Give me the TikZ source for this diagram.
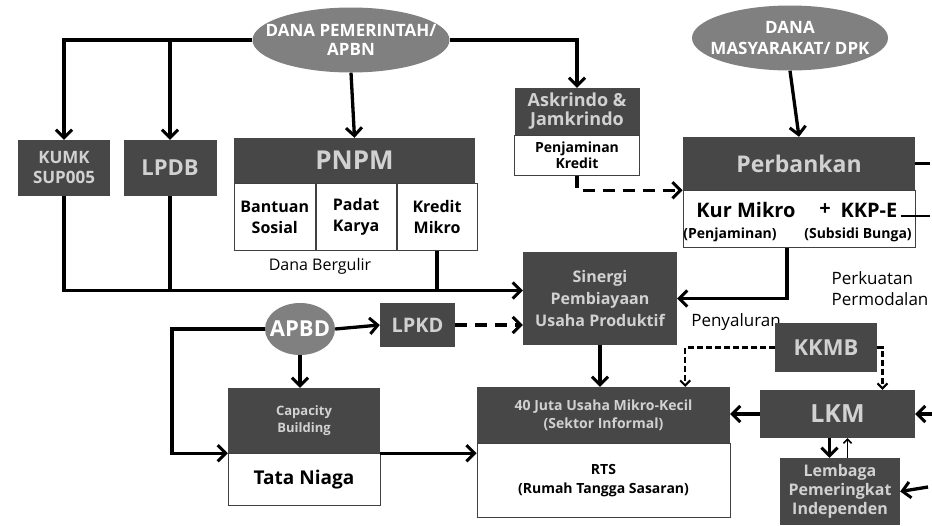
\documentclass[tikz,border=0pt]{standalone}
\usepackage{fontspec}
\setmainfont{Open Sans}
\usetikzlibrary{arrows.meta,shapes.geometric,positioning}

\tikzset{
  darkbox/.style={rectangle, fill=black!72, text=black!18, align=center, inner sep=0pt},
  whitebox/.style={rectangle, draw=black!75, line width=0.9pt, fill=white, align=center, inner sep=0pt},
  fundoval/.style={ellipse, fill=black!50, text=white, align=center, inner xsep=-20pt, inner ysep=0pt},
  flow/.style={line width=3.3pt, -{Straight Barb[length=8pt,width=16pt,line width=3pt]}},
  link/.style={line width=3.3pt},
  dashflow/.style={flow, dash pattern=on 12pt off 8pt},
  thindash/.style={line width=2.3pt, dash pattern=on 6pt off 3pt, -{Straight Barb[length=5pt,width=10pt,line width=2pt]}},
}

\begin{document}
\begin{tikzpicture}[x=1pt, y=-1pt]
\fill[white] (0,0) rectangle (932,525);
\useasboundingbox (0,0) rectangle (932,525);
% sumber dana
\node[fundoval, minimum width=197pt, minimum height=65pt, font=\bfseries\fontsize{17}{19}\selectfont] (apbn) at (351,40) {DANA PEMERINTAH/\\APBN};
\node[fundoval, minimum width=196pt, minimum height=65pt, font=\bfseries\fontsize{17}{21}\selectfont] (dpk) at (790,38) {DANA\\MASYARAKAT/ DPK};
% baris atas
\node[darkbox, minimum width=92pt, minimum height=56pt, font=\bfseries\fontsize{17}{20}\selectfont] (kumk) at (64,168) {KUMK\\SUP005};
\node[darkbox, minimum width=93pt, minimum height=56pt, font=\bfseries\fontsize{22}{24}\selectfont] (lpdb) at (170,168) {LPDB};
\node[darkbox, minimum width=241pt, minimum height=45pt, font=\bfseries\fontsize{26}{28}\selectfont] (pnpm) at (354.5,160.5) {PNPM};
\node[whitebox, minimum width=81pt, minimum height=67pt, anchor=north west, font=\bfseries\fontsize{16}{21}\selectfont] (bansos) at (pnpm.south west) {Bantuan\\Sosial};
\node[whitebox, minimum width=80pt, minimum height=67pt, anchor=north west, font=\bfseries\fontsize{16}{21}\selectfont] (padat) at (bansos.north east) {Padat\\Karya};
\node[whitebox, minimum width=80pt, minimum height=67pt, anchor=north west, font=\bfseries\fontsize{16}{21}\selectfont] (kredit) at (padat.north east) {Kredit\\Mikro};
\node[font=\fontsize{16}{19}\selectfont] (bergulir) at (320,266) {Dana Bergulir};
% penjaminan
\node[darkbox, minimum width=125pt, minimum height=47pt, font=\bfseries\fontsize{18}{19}\selectfont] (askr) at (577,111.5) {Askrindo \&\\Jamkrindo};
\node[whitebox, minimum width=125pt, minimum height=40pt, anchor=north, font=\bfseries\fontsize{14}{16}\selectfont] (jamin) at (askr.south) {Penjaminan\\Kredit};
% perbankan
\node[darkbox, minimum width=232pt, minimum height=53pt, font=\bfseries\fontsize{23}{25}\selectfont] (bank) at (799,163.5) {Perbankan};
\node[whitebox, minimum width=232pt, minimum height=57pt, anchor=north] (kur) at (bank.south) {};
\node[font=\bfseries\fontsize{20}{22}\selectfont] (kurmikro) at (746,210) {Kur Mikro};
\node[font=\bfseries\fontsize{20}{22}\selectfont] (plus) at (825,210) {+};
\node[font=\bfseries\fontsize{20}{22}\selectfont] (kkpe) at (869,210) {KKP-E};
\node[font=\bfseries\fontsize{14}{16}\selectfont] (penj) at (730,235) {(Penjaminan)};
\node[font=\bfseries\fontsize{14}{16}\selectfont] (subsidi) at (858,235) {(Subsidi Bunga)};
% sinergi
\node[darkbox, minimum width=154pt, minimum height=93pt, font=\bfseries\fontsize{16}{22}\selectfont] (sinergi) at (600,298.5) {Sinergi\\Pembiayaan\\Usaha Produktif};
\node[align=left, font=\fontsize{17}{21}\selectfont] (perkuatan) at (880,289) {Perkuatan\\Permodalan};
\node[font=\fontsize{17}{20}\selectfont] (penyaluran) at (736,322) {Penyaluran};
% daerah
\node[fundoval, minimum width=70pt, minimum height=52pt, font=\bfseries\fontsize{22}{24}\selectfont] (apbd) at (300,329) {APBD};
\node[darkbox, minimum width=75pt, minimum height=44pt, font=\bfseries\fontsize{20}{22}\selectfont] (lpkd) at (417.5,325) {LPKD};
\node[darkbox, minimum width=152pt, minimum height=65pt, font=\bfseries\fontsize{13}{17}\selectfont] (capbuild) at (304,420.5) {Capacity\\Building};
\node[whitebox, minimum width=152pt, minimum height=52pt, anchor=north, font=\bfseries\fontsize{19}{21}\selectfont] (niaga) at (capbuild.south) {Tata Niaga};
% sasaran
\node[darkbox, minimum width=253pt, minimum height=56pt, font=\bfseries\fontsize{14}{18}\selectfont] (usaha) at (603.5,415) {40 Juta Usaha Mikro-Kecil\\(Sektor Informal)};
\node[whitebox, minimum width=253pt, minimum height=74pt, anchor=north, font=\bfseries\fontsize{14}{19}\selectfont] (rts) at (usaha.south) {RTS\\(Rumah Tangga Sasaran)};
% lembaga keuangan mikro
\node[darkbox, minimum width=102pt, minimum height=49pt, font=\bfseries\fontsize{22}{24}\selectfont] (kkmb) at (826,347.5) {KKMB};
\node[darkbox, minimum width=155pt, minimum height=48pt, font=\bfseries\fontsize{25}{27}\selectfont] (lkm) at (837.5,414) {LKM};
\node[darkbox, minimum width=120pt, minimum height=67pt, font=\bfseries\fontsize{16}{19}\selectfont] (lembaga) at (840,491.5) {Lembaga\\Pemeringkat\\Independen};
% ujung bebas
\coordinate (bankout) at (930,163.5);
\coordinate (kkpeout) at (930,216);
\coordinate (lkmin) at (932,414);
\coordinate (lembagain) at (928,487);
\coordinate (leftbend) at (172,329);
\coordinate (sinin) at ([yshift=8pt]sinergi.west);

% aliran dana pemerintah
\draw[flow] (apbn.west) -| (kumk.north);
\draw[flow] (apbn.west -| lpdb.north) -- (lpdb.north);
\draw[flow] (apbn.east) -| (askr.north);
\draw[flow] (apbn.south) -- (pnpm.north);
\draw[flow] (dpk.south) -- (bank.north);
\draw[flow] (kumk.south) |- (sinin);
\draw[link] (lpdb.south) -- (lpdb.south |- sinin);
\draw[link] (kredit.south) -- (kredit.south |- sinin);
\draw[dashflow] (jamin.south) |- (kur.north west);
\draw[flow] ([xshift=-12pt]kur.south) |- (sinergi.east);
\draw[link] (bank.east) -- (bankout);
\draw[line width=2.4pt] ([yshift=-6pt]kkpe.east) -- (kkpeout);
% aliran dana daerah
\draw[flow] (apbd.east) -- (lpkd.west);
\draw[dashflow] (lpkd.east) -- (lpkd.east -| sinergi.west);
\draw[flow] (apbd.south) -- (apbd.south |- capbuild.north);
\draw[flow] (apbd.west) -- (leftbend) |- (capbuild.south west);
\draw[flow] (capbuild.south east) -- (capbuild.south east -| rts.west);
\draw[flow] (sinergi.south) -- (sinergi.south |- usaha.north);
% pendampingan dan pemeringkatan
\draw[thindash] (kkmb.west) -| ([xshift=-45pt]usaha.north east);
\draw[thindash] (kkmb.east) -| ([xshift=45pt]lkm.north);
\draw[flow] (lkm.west) -- (lkm.west -| usaha.east);
\draw[flow] (lkmin) -- (lkm.east);
\draw[flow] ([xshift=-8pt]lkm.south) -- ([xshift=-8pt]lkm.south |- lembaga.north);
\draw[line width=1.6pt, -{Straight Barb[length=4pt,width=8pt]}] ([xshift=10pt]lkm.south |- lembaga.north) -- ([xshift=10pt]lkm.south);
\draw[flow] (lembagain) -- (lembaga.east);
\end{tikzpicture}
\end{document}
